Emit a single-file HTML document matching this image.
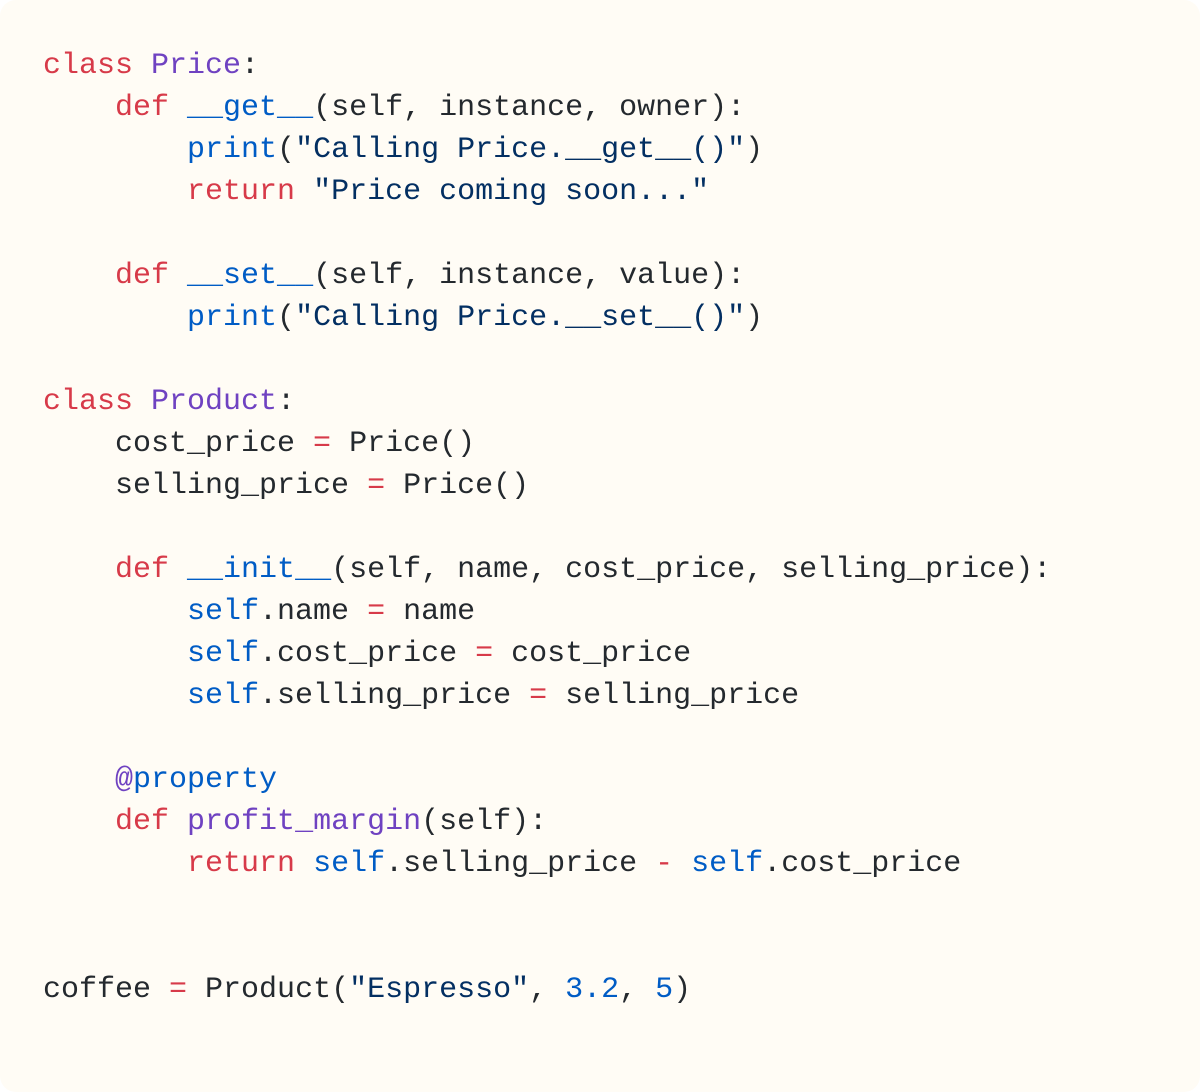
<!DOCTYPE html>
<html><head><meta charset="utf-8"><style>
html,body{margin:0;padding:0;background:#fff;}
.box{width:1200px;height:1092px;background:#fffcf5;border-radius:16px;position:relative;overflow:hidden;}
pre{margin:0;position:absolute;left:43px;top:45px;font-family:"Liberation Mono",monospace;font-size:30px;line-height:42px;color:#24292e;}
.k{color:#d73a49}.c{color:#6f42c1}.b{color:#005cc5}.s{color:#032f62}
</style></head><body><div class="box"><pre><span class="k">class</span> <span class="c">Price</span>:
    <span class="k">def</span> <span class="b">__get__</span>(self, instance, owner):
        <span class="b">print</span>(<span class="s">"Calling Price.__get__()"</span>)
        <span class="k">return</span> <span class="s">"Price coming soon..."</span>

    <span class="k">def</span> <span class="b">__set__</span>(self, instance, value):
        <span class="b">print</span>(<span class="s">"Calling Price.__set__()"</span>)

<span class="k">class</span> <span class="c">Product</span>:
    cost_price <span class="k">=</span> Price()
    selling_price <span class="k">=</span> Price()

    <span class="k">def</span> <span class="b">__init__</span>(self, name, cost_price, selling_price):
        <span class="b">self</span>.name <span class="k">=</span> name
        <span class="b">self</span>.cost_price <span class="k">=</span> cost_price
        <span class="b">self</span>.selling_price <span class="k">=</span> selling_price

    <span class="c">@</span><span class="b">property</span>
    <span class="k">def</span> <span class="c">profit_margin</span>(self):
        <span class="k">return</span> <span class="b">self</span>.selling_price <span class="k">-</span> <span class="b">self</span>.cost_price


coffee <span class="k">=</span> Product(<span class="s">"Espresso"</span>, <span class="b">3.2</span>, <span class="b">5</span>)</pre></div></body></html>
